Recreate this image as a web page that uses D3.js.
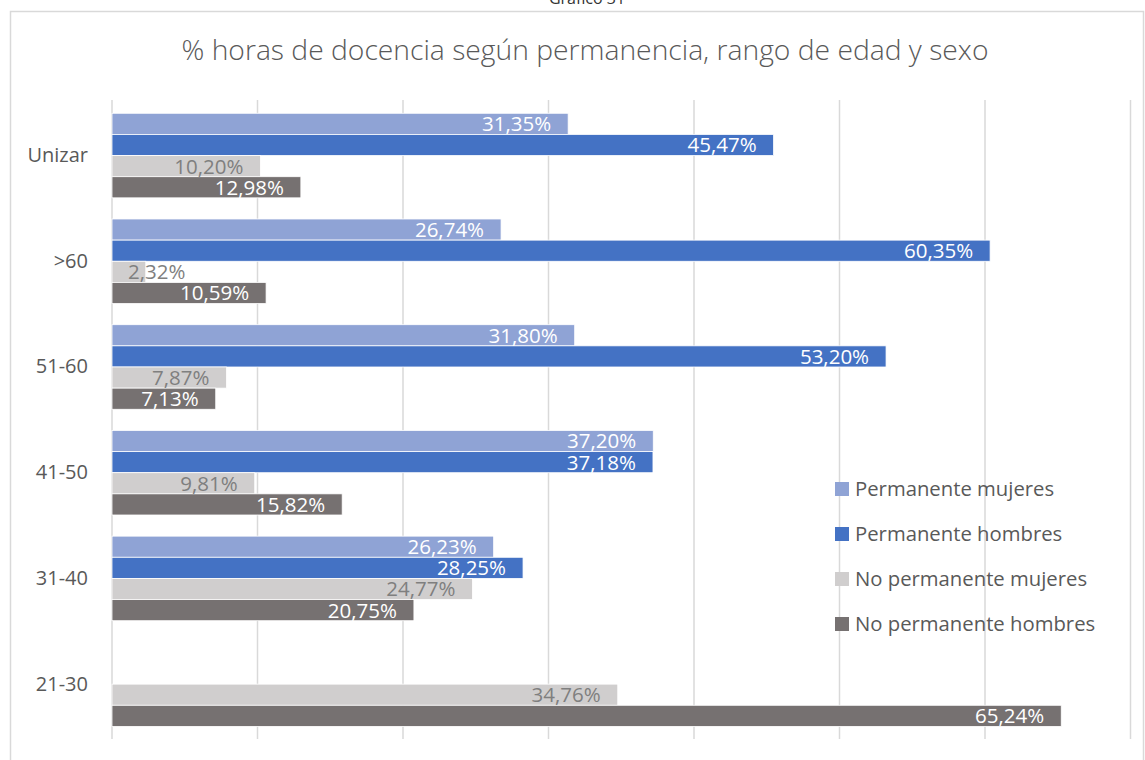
<!DOCTYPE html>
<html>
<head>
<meta charset="utf-8">
<script src="https://cdn.jsdelivr.net/npm/d3@7"></script>
<style>
  html, body { margin: 0; padding: 0; background: #fff; }
  svg { display: block; }
</style>
</head>
<body>
<svg id="chart" width="1145" height="760"></svg>
<script>
// ---- data ----
const categories = ["Unizar", ">60", "51-60", "41-50", "31-40", "21-30"];
const seriesNames = ["Permanente mujeres", "Permanente hombres", "No permanente mujeres", "No permanente hombres"];
const permanenteMujeres   = [31.35, 26.74, 31.80, 37.20, 26.23, null];
const permanenteHombres   = [45.47, 60.35, 53.20, 37.18, 28.25, null];
const noPermanenteMujeres = [10.20, 2.32, 7.87, 9.81, 24.77, 34.76];
const noPermanenteHombres = [12.98, 10.59, 7.13, 15.82, 20.75, 65.24];
const xTicks = [0, 10, 20, 30, 40, 50, 60, 70];
const titleText = "% horas de docencia según permanencia, rango de edad y sexo";
const captionText = "Gráfico 31";

// ---- styles ----
const colors = ["#8FA3D5", "#4472C4", "#D0CECE", "#767171"];
const labelColors = ["#FFFFFF", "#FFFFFF", "#7F7F7F", "#FFFFFF"];
const seriesValues = [permanenteMujeres, permanenteHombres, noPermanenteMujeres, noPermanenteHombres];
const labelFont = "'Open Sans', 'Noto Sans', sans-serif";

const svg = d3.select("#chart");

// chart border
svg.append("rect")
  .attr("x", 10.5).attr("y", 11.5)
  .attr("width", 1133).attr("height", 780)
  .attr("fill", "#fff").attr("stroke", "#D9D9D9").attr("stroke-width", 1.5);

// caption (cut off at top)
svg.append("text")
  .attr("x", 587).attr("y", 4)
  .attr("text-anchor", "middle")
  .attr("font-family", "'Open Sans', sans-serif")
  .attr("font-size", 16)
  .attr("fill", "#333")
  .text(captionText);

// title
const title = svg.append("text")
  .attr("x", 585).attr("y", 60)
  .attr("text-anchor", "middle")
  .attr("font-family", "'Open Sans', sans-serif")
  .attr("font-weight", 300)
  .attr("font-size", 26)
  .attr("fill", "#595959")
  .text(titleText);
{
  const w = title.node().getComputedTextLength();
  title.attr("font-size", 26 * 807 / w);
}

// scales
const x = d3.scaleLinear().domain([0, 70]).range([112, 1130.5]);
const y = d3.scaleBand().domain(categories).range([102.7, 737]).paddingInner(0.2).paddingOuter(0.1);
const ySub = d3.scaleBand().domain(d3.range(4)).range([0, y.bandwidth()]);

// gridlines
svg.append("g").selectAll("line").data(xTicks).join("line")
  .attr("x1", d => x(d)).attr("x2", d => x(d))
  .attr("y1", 100).attr("y2", 739)
  .attr("stroke", "#D9D9D9").attr("stroke-width", 1.5);

// category axis labels
const yAxis = d3.axisLeft(y).tickSize(0).tickPadding(0);
const yg = svg.append("g").attr("transform", "translate(88,0)").call(yAxis);
yg.select(".domain").remove();
yg.selectAll("text")
  .attr("font-family", labelFont)
  .attr("font-size", 20)
  .attr("fill", "#595959");

// bars
const rows = [];
categories.forEach((c, i) => {
  seriesValues.forEach((vals, s) => {
    if (vals[i] != null) rows.push({ cat: c, s, v: vals[i] });
  });
});

const barG = svg.append("g");
barG.selectAll("rect").data(rows).join("rect")
  .attr("x", x(0))
  .attr("y", d => y(d.cat) + ySub(d.s))
  .attr("width", d => x(d.v) - x(0))
  .attr("height", ySub.bandwidth())
  .attr("fill", d => colors[d.s])
  .attr("stroke", "#fff").attr("stroke-width", 0.8);

// labels
const fmt = v => v.toFixed(2).replace(".", ",") + "%";
const lab = svg.append("g").selectAll("text").data(rows).join("text")
  .attr("y", d => y(d.cat) + ySub(d.s) + ySub.bandwidth() / 2)
  .attr("dy", "0.36em")
  .attr("text-anchor", "end")
  .attr("font-family", labelFont)
  .attr("font-size", 20.5)
  .attr("fill", d => labelColors[d.s])
  .text(d => fmt(d.v));
lab.each(function(d) {
  const w = this.getComputedTextLength();
  let end = x(d.v) - 17;
  const minEnd = x(0) + 16 + w;
  if (end < minEnd) end = minEnd;
  d3.select(this).attr("x", end);
});

// legend
const legend = svg.append("g").attr("transform", "translate(835,0)");
const legY = [489, 534, 579, 624];
seriesNames.forEach((n, i) => {
  legend.append("rect")
    .attr("x", 0).attr("y", legY[i] - 7)
    .attr("width", 14).attr("height", 14)
    .attr("fill", colors[i]);
  legend.append("text")
    .attr("x", 20).attr("y", legY[i])
    .attr("dy", "0.36em")
    .attr("font-family", labelFont)
    .attr("font-size", 20.3)
    .attr("fill", "#595959")
    .text(n);
});
</script>
</body>
</html>
